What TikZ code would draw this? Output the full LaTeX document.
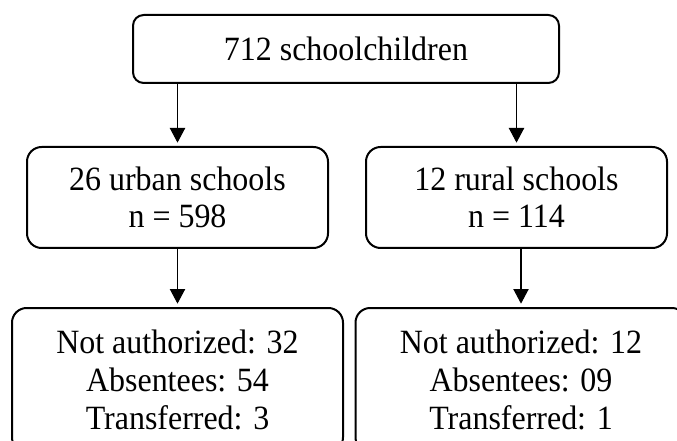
\documentclass[tikz,border=0pt]{standalone}
\usepackage{fontspec}
\setmainfont{Liberation Serif}[FakeStretch=0.94]
\usetikzlibrary{arrows.meta,calc,positioning}

\begin{document}
\begin{tikzpicture}[
  x=0.75pt,
  y=-0.75pt,
  >={Triangle[width=11.5pt,length=11pt]},
  stagebox/.style={
    draw,
    line width=1.5pt,
    rounded corners=11pt,
    align=center,
    inner sep=0pt,
    font=\fontsize{25.5}{27.5}\selectfont
  },
  flow/.style={->,line width=0.8pt,shorten >=2.5pt}
]

% Frame of the figure (lowest boxes run past the bottom edge)
\clip (0,0) rectangle (677,441);

% Top box
\node[stagebox,rounded corners=8pt,minimum width=319.5pt,minimum height=51pt]
  (All) at (346,49) {712 schoolchildren};

% School types
\node[stagebox,minimum width=225.75pt,minimum height=75.75pt]
  (Urban) at (177.5,197.5) {26 urban schools\\n = 598};
\node[stagebox,minimum width=225.75pt,minimum height=75.75pt]
  (Rural) at (516.5,197.5) {12 rural schools\\n = 114};

% Losses
\node[stagebox,minimum width=248.25pt,minimum height=108pt,
      font=\fontsize{25.5}{28.2}\selectfont]
  (UrbanOut) at (177.5,380) {Not authorized: 32\\Absentees: 54\\Transferred: 3};
\node[stagebox,minimum width=248.25pt,minimum height=108pt,
      font=\fontsize{25.5}{28.2}\selectfont]
  (RuralOut) at (521,380) {Not authorized: 12\\Absentees: 09\\Transferred: 1};

% Arrows
\draw[flow] (All.south -| Urban.north) -- (Urban.north);
\draw[flow] (All.south -| Rural.north) -- (Rural.north);
\draw[flow] (Urban.south) -- (UrbanOut.north);
\draw[flow] (Rural.south -| RuralOut.north) -- (RuralOut.north);
\end{tikzpicture}
\end{document}
